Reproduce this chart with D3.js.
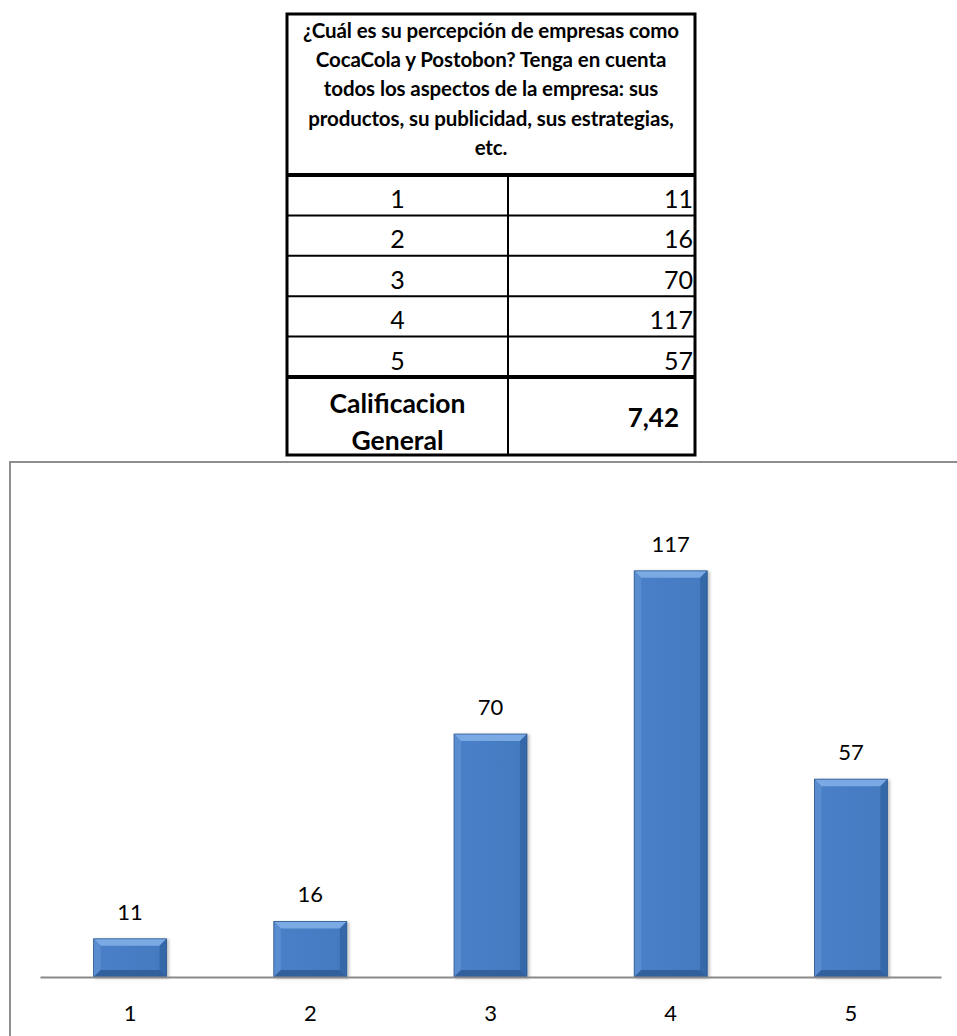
<!DOCTYPE html>
<html>
<head>
<meta charset="utf-8">
<script src="https://cdn.jsdelivr.net/npm/d3@7"></script>
<style>
  body { margin: 0; background: #fff; }
  svg { display: block; font-family: Lato, "Open Sans", sans-serif; }
</style>
</head>
<body>
<svg id="chart" width="957" height="1036"></svg>
<script>
const categories = ['1', '2', '3', '4', '5']
const counts = [11, 16, 70, 117, 57]
const headerLines = [
  '¿Cuál es su percepción de empresas como',
  'CocaCola y Postobon? Tenga en cuenta',
  'todos los aspectos de la empresa: sus',
  'productos, su publicidad, sus estrategias,',
  'etc.'
]
const summaryLabel = ['Calificacion', 'General']
const summaryValue = '7,42'

const svg = d3.select('#chart')

// ---------- table ----------
const tbl = { left: 287, right: 695, mid: 508, top: 14, headBottom: 175, rowH: 40.4, bottom: 455 }
const t = svg.append('g')

// header text
t.selectAll('text.head')
  .data(headerLines)
  .enter()
  .append('text')
  .attr('class', 'head')
  .attr('x', (tbl.left + tbl.right) / 2)
  .attr('y', (d, i) => 38 + i * 29.2)
  .attr('text-anchor', 'middle')
  .style('font-weight', 'bold')
  .style('font-size', '20.5px')
  .style('letter-spacing', '-0.1px')
  .text(d => d)

const rowY = d3.scaleBand()
  .domain(categories)
  .range([tbl.headBottom, tbl.headBottom + tbl.rowH * categories.length])
const totalTop = tbl.headBottom + tbl.rowH * categories.length

// row lines
t.selectAll('line.row')
  .data(categories.slice(1))
  .enter()
  .append('line')
  .attr('x1', tbl.left).attr('x2', tbl.right)
  .attr('y1', d => rowY(d)).attr('y2', d => rowY(d))
  .style('stroke', '#000').style('stroke-width', 2)

t.selectAll('text.cat')
  .data(categories)
  .enter()
  .append('text')
  .attr('x', (tbl.left + tbl.mid) / 2)
  .attr('y', d => rowY(d) + 33)
  .attr('text-anchor', 'middle')
  .style('font-size', '25px')
  .text(d => d)

t.selectAll('text.val')
  .data(counts)
  .enter()
  .append('text')
  .attr('x', tbl.right - 2)
  .attr('y', (d, i) => rowY(categories[i]) + 33)
  .attr('text-anchor', 'end')
  .style('font-size', '25px')
  .text(d => d)

// summary row
t.selectAll('text.sum')
  .data(summaryLabel)
  .enter()
  .append('text')
  .attr('x', (tbl.left + tbl.mid) / 2)
  .attr('y', (d, i) => totalTop + 36 + i * 37)
  .attr('text-anchor', 'middle')
  .style('font-weight', 'bold')
  .style('font-size', '26.5px')
  .text(d => d)

t.append('text')
  .attr('x', tbl.right - 16)
  .attr('y', totalTop + 50)
  .attr('text-anchor', 'end')
  .style('font-weight', 'bold')
  .style('font-size', '26px')
  .text(summaryValue)

// column divider
t.append('line')
  .attr('x1', tbl.mid).attr('x2', tbl.mid)
  .attr('y1', tbl.headBottom).attr('y2', tbl.bottom)
  .style('stroke', '#000').style('stroke-width', 2)

// thick lines
t.append('line')
  .attr('x1', tbl.left).attr('x2', tbl.right)
  .attr('y1', tbl.headBottom).attr('y2', tbl.headBottom)
  .style('stroke', '#000').style('stroke-width', 4)
t.append('line')
  .attr('x1', tbl.left).attr('x2', tbl.right)
  .attr('y1', totalTop).attr('y2', totalTop)
  .style('stroke', '#000').style('stroke-width', 4)
t.append('rect')
  .attr('x', tbl.left).attr('y', tbl.top)
  .attr('width', tbl.right - tbl.left).attr('height', tbl.bottom - tbl.top)
  .style('fill', 'none').style('stroke', '#000').style('stroke-width', 3)

// ---------- chart ----------
// frame (runs off the page right and bottom)
svg.append('rect')
  .attr('x', 10).attr('y', 462)
  .attr('width', 960).attr('height', 600)
  .style('fill', 'none').style('stroke', '#8e8e8e').style('stroke-width', 2)

const xScale = d3.scaleBand()
  .domain(categories)
  .range([40, 941])
  .paddingInner(0.595)
  .paddingOuter(0.2975)

const yScale = d3.scaleLinear()
  .domain([0, 140])
  .range([977, 491])

const defs = svg.append('defs')
defs.append('filter').attr('id', 'shadow')
  .attr('x', '-20%').attr('y', '-10%').attr('width', '140%').attr('height', '120%')
  .append('feDropShadow')
  .attr('dx', 2).attr('dy', 1).attr('stdDeviation', 1.5)
  .attr('flood-color', '#000').attr('flood-opacity', 0.25)

const face = defs.append('linearGradient').attr('id', 'face')
  .attr('x1', 0).attr('y1', 0).attr('x2', 1).attr('y2', 0)
face.append('stop').attr('offset', '0%').attr('stop-color', '#4a80c8')
face.append('stop').attr('offset', '100%').attr('stop-color', '#437ac0')

const b = 7
const bars = svg.selectAll('g.bar')
  .data(counts)
  .enter()
  .append('g')
  .attr('class', 'bar')
  .attr('filter', 'url(#shadow)')

const geo = (d, i) => {
  const x = xScale(categories[i])
  const w = xScale.bandwidth()
  const y = yScale(d)
  const h = yScale(0) - y
  return { x, y, w, h }
}

bars.append('rect')
  .attr('x', (d, i) => geo(d, i).x)
  .attr('y', (d, i) => geo(d, i).y)
  .attr('width', xScale.bandwidth())
  .attr('height', (d, i) => geo(d, i).h)
  .style('fill', 'url(#face)')

const edges = [
  { fill: '#7aa9e4', pts: g => [[g.x, g.y], [g.x + g.w, g.y], [g.x + g.w - b, g.y + b], [g.x + b, g.y + b]] },
  { fill: '#5a8dd0', pts: g => [[g.x, g.y], [g.x + b, g.y + b], [g.x + b, g.y + g.h - b], [g.x, g.y + g.h]] },
  { fill: '#3667a8', pts: g => [[g.x + g.w, g.y], [g.x + g.w, g.y + g.h], [g.x + g.w - b, g.y + g.h - b], [g.x + g.w - b, g.y + b]] },
  { fill: '#33609c', pts: g => [[g.x, g.y + g.h], [g.x + g.w, g.y + g.h], [g.x + g.w - b, g.y + g.h - b], [g.x + b, g.y + g.h - b]] }
]

edges.forEach(e => {
  bars.append('polygon')
    .attr('points', (d, i) => e.pts(geo(d, i)).map(p => p.join(',')).join(' '))
    .style('fill', e.fill)
})

bars.append('rect')
  .attr('x', (d, i) => geo(d, i).x)
  .attr('y', (d, i) => geo(d, i).y)
  .attr('width', xScale.bandwidth())
  .attr('height', (d, i) => geo(d, i).h)
  .style('fill', 'none')
  .style('stroke', '#2f5a90')
  .style('stroke-width', 0.8)

// x axis line
svg.append('g')
  .attr('transform', 'translate(0,' + yScale(0) + ')')
  .call(d3.axisBottom(xScale).tickSize(0).tickPadding(28).tickSizeOuter(0))
  .call(g => g.select('.domain').style('stroke', '#8a8a8a').style('stroke-width', 2))
  .call(g => g.selectAll('text')
    .style('font-family', 'Lato, sans-serif')
    .style('font-size', '22px')
    .style('fill', '#000'))

// value labels
svg.selectAll('text.label')
  .data(counts)
  .enter()
  .append('text')
  .attr('class', 'label')
  .attr('x', (d, i) => xScale(categories[i]) + xScale.bandwidth() / 2)
  .attr('y', d => yScale(d) - 19)
  .attr('text-anchor', 'middle')
  .style('font-size', '22px')
  .text(d => d)
</script>
</body>
</html>
